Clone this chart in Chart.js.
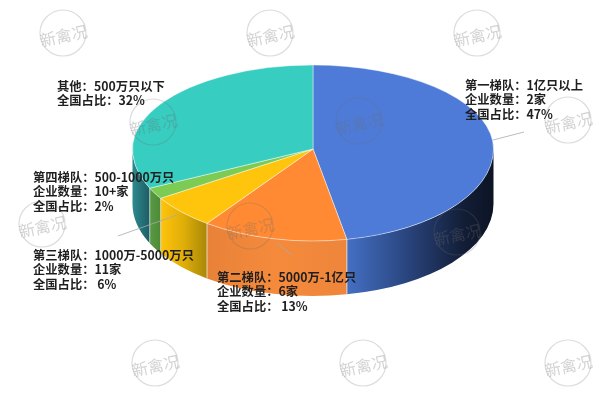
<!DOCTYPE html>
<html>
<head>
<meta charset="utf-8">
<style>
  html, body { margin: 0; padding: 0; background: #fff; }
  canvas { display: block; }
</style>
<script src="https://cdn.jsdelivr.net/npm/chart.js@4/dist/chart.umd.min.js"></script>
</head>
<body>
<canvas id="myChart" width="600" height="400"></canvas>
<script>
// data
const tiers = ['第一梯队', '第二梯队', '第三梯队', '第四梯队', '其他'];
const shares = [47, 13, 6, 2, 32];
const topColors = ['#4e7bd8', '#ff8a33', '#ffc40c', '#7ccb55', '#37cdc0'];
const labelLines = [
  ['第一梯队：1亿只以上', '企业数量：2家', '全国占比：47%'],
  ['第二梯队：5000万-1亿只', '企业数量：6家', '全国占比： 13%'],
  ['第三梯队：1000万-5000万只', '企业数量：11家', '全国占比： 6%'],
  ['第四梯队：500-1000万只', '企业数量：10+家', '全国占比：2%'],
  ['其他：500万只以下', '全国占比：32%']
];

// styling / layout
const labelAnchors = [[465, 85], [217, 277], [33, 255], [33, 177], [57, 86]];
const sideStops = [
  [[0, '#0c1424'], [0.2, '#121d36'], [0.6, '#2a4680'], [1, '#4470c4']],
  [[0, '#ee853a'], [0.5, '#f58a3c'], [1, '#e88238']],
  [[0, '#a88808'], [0.5, '#dfae08'], [1, '#ffc40c']],
  [[0, '#4c8a3a'], [1, '#5b9a42']],
  [[0, '#1d5c64'], [1, '#2e8a90']]
];
const leaderLines = [
  [[493, 140], [524, 132]],
  [[118, 236], [177, 215]],
  [[277, 243], [292, 255]]
];
const stampSpots = [
  [63, 33], [270, 33], [477, 33],
  [153, 122], [359, 121], [568, 120],
  [42, 224], [250, 226], [457, 232],
  [155, 363], [363, 363], [568, 363]
];
// the apex sits above the middle of the ellipse, so back and front are squashed differently
const pieCenterY = 149;
const pieBackY = 84;
const pieFrontY = 92;
const pieDepth = 55;

function applySquash(chart, radiusY, clipTop) {
  const ctx = chart.ctx;
  const arc = chart.getDatasetMeta(0).data[0];
  ctx.save();
  ctx.beginPath();
  if (clipTop) {
    ctx.rect(0, 0, chart.width, pieCenterY);
  } else {
    ctx.rect(0, pieCenterY, chart.width, chart.height - pieCenterY);
  }
  ctx.clip();
  ctx.translate(0, pieCenterY);
  ctx.scale(1, radiusY / arc.outerRadius);
  ctx.translate(0, -arc.y);
}

const pie3d = {
  id: 'pie3d',
  beforeDatasetsDraw(chart) {
    const ctx = chart.ctx;
    const arcs = chart.getDatasetMeta(0).data;
    const cx = arcs[0].x;
    const rx = arcs[0].outerRadius;

    arcs.forEach(function(arc, i) {
      // the part of the slice that faces the viewer (canvas angles 0..PI)
      let start = arc.startAngle;
      let end = arc.endAngle;
      if (end > Math.PI * 2) { start -= Math.PI * 2; end -= Math.PI * 2; }
      const a0 = Math.max(start, 0);
      const a1 = Math.min(end, Math.PI);
      if (a1 <= a0) return;

      const x0 = cx + rx * Math.cos(a0);
      const x1 = cx + rx * Math.cos(a1);
      const grad = ctx.createLinearGradient(x0, 0, x1, 0);
      sideStops[i].forEach(function(s) { grad.addColorStop(s[0], s[1]); });

      ctx.save();
      ctx.beginPath();
      ctx.ellipse(cx, pieCenterY, rx, pieFrontY, 0, a0, a1);
      ctx.ellipse(cx, pieCenterY + pieDepth, rx, pieFrontY, 0, a1, a0, true);
      ctx.closePath();
      ctx.fillStyle = grad;
      ctx.fill();

      // light edges between the slices
      ctx.strokeStyle = 'rgba(255,255,255,0.45)';
      ctx.lineWidth = 1;
      [a0, a1].forEach(function(a) {
        if (a <= 0 || a >= Math.PI) return;
        const x = cx + rx * Math.cos(a);
        const y = pieCenterY + pieFrontY * Math.sin(a);
        ctx.beginPath();
        ctx.moveTo(x, y);
        ctx.lineTo(x, y + pieDepth);
        ctx.stroke();
      });
      ctx.restore();
    });

    applySquash(chart, pieBackY, true);
  },
  afterDatasetsDraw(chart) {
    const ctx = chart.ctx;
    ctx.restore();

    // front half of the top face
    applySquash(chart, pieFrontY, false);
    chart.getDatasetMeta(0).controller.draw();
    ctx.restore();

    ctx.save();
    ctx.strokeStyle = 'rgba(170,170,170,0.8)';
    ctx.lineWidth = 1;
    leaderLines.forEach(function(l) {
      ctx.beginPath();
      ctx.moveTo(l[0][0], l[0][1]);
      ctx.lineTo(l[1][0], l[1][1]);
      ctx.stroke();
    });

    // watermark stamps
    stampSpots.forEach(function(p) {
      ctx.save();
      ctx.translate(p[0], p[1]);
      ctx.strokeStyle = 'rgba(110,110,110,0.24)';
      ctx.lineWidth = 1.2;
      ctx.beginPath();
      ctx.arc(0, 0, 23, 0, Math.PI * 2);
      ctx.stroke();
      ctx.rotate(-12 * Math.PI / 180);
      ctx.fillStyle = 'rgba(110,110,110,0.3)';
      ctx.font = '16px "Noto Sans CJK SC"';
      ctx.textAlign = 'center';
      ctx.textBaseline = 'middle';
      ctx.fillText('新禽况', 0, 3);
      ctx.restore();
    });

    // slice labels
    ctx.fillStyle = '#1f1f1f';
    ctx.font = 'bold 12.3px "Noto Sans CJK SC"';
    ctx.textBaseline = 'middle';
    labelLines.forEach(function(lines, i) {
      lines.forEach(function(line, j) {
        ctx.fillText(line, labelAnchors[i][0], labelAnchors[i][1] + j * 14.8);
      });
    });
    ctx.restore();
  }
};

let myChart = new Chart(document.getElementById('myChart').getContext('2d'), {
  type: 'pie',
  data: {
    labels: tiers,
    datasets: [{
      data: shares,
      backgroundColor: topColors,
      borderColor: 'rgba(255,255,255,0.6)',
      borderWidth: 1
    }]
  },
  options: {
    responsive: false,
    animation: false,
    devicePixelRatio: 1,
    layout: { padding: { left: 132, right: 106, top: 19, bottom: 19 } },
    plugins: {
      legend: { display: false },
      tooltip: { enabled: false }
    }
  },
  plugins: [pie3d]
});
</script>
</body>
</html>
